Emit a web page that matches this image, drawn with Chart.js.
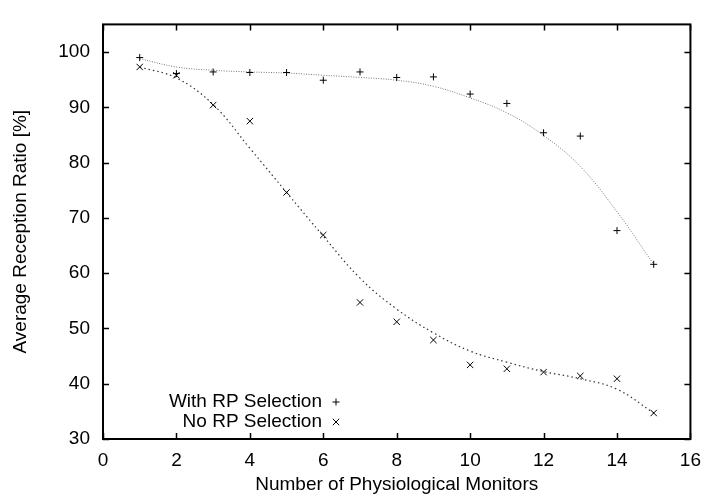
<!DOCTYPE html>
<html>
<head>
<meta charset="utf-8">
<script src="https://cdn.jsdelivr.net/npm/chart.js@4"></script>
<style>
  html, body { margin: 0; padding: 0; background: #fff; }
  #wrap { width: 711px; height: 500px; }
</style>
</head>
<body>
<div id="wrap"><canvas id="chart"></canvas></div>
<script>
// number of monitors
const monitors = [1, 2, 3, 4, 5, 6, 7, 8, 9, 10, 11, 12, 13, 14, 15];
// measured points
const withRP = [99.0, 96.1, 96.4, 96.3, 96.3, 94.9, 96.4, 95.4, 95.5, 92.4, 90.7, 85.4, 84.8, 67.7, 61.6];
const noRP = [97.3, 95.8, 90.4, 87.5, 74.6, 66.9, 54.7, 51.2, 47.9, 43.4, 42.7, 42.1, 41.4, 40.9, 34.7];
// fitted curves, read at each x
const fitWithRP = [98.8, 97.3, 96.7, 96.4, 96.2, 95.8, 95.4, 94.9, 93.8, 91.7, 89.0, 84.9, 79.3, 71.1, 61.6];
const fitNoRP = [97.3, 95.3, 90.5, 82.6, 74.6, 66.7, 59.1, 53.5, 49.2, 45.9, 43.9, 42.2, 40.9, 39.0, 34.7];
// axis ticks
const xTicks = [0, 2, 4, 6, 8, 10, 12, 14, 16];
const yTicks = [30, 40, 50, 60, 70, 80, 90, 100];

const FONT = "'Liberation Sans', Arial, sans-serif";
const FS = 19;
const pts = arr => arr.map((y, i) => ({ x: monitors[i], y }));

// gnuplot style frame, inner ticks on all sides, legend at bottom left
const framePlugin = {
  id: "frame",
  afterDraw(chart) {
    const { ctx, chartArea: a, scales: { x, y } } = chart;
    ctx.save();
    ctx.strokeStyle = "#000";
    ctx.lineWidth = 1.5;
    ctx.beginPath();
    xTicks.forEach(v => {
      const px = Math.round(x.getPixelForValue(v)) + 0.5;
      ctx.moveTo(px, a.bottom); ctx.lineTo(px, a.bottom - 6);
      ctx.moveTo(px, a.top); ctx.lineTo(px, a.top + 6);
    });
    yTicks.forEach(v => {
      const py = Math.round(y.getPixelForValue(v)) + 0.5;
      ctx.moveTo(a.left, py); ctx.lineTo(a.left + 6, py);
      ctx.moveTo(a.right, py); ctx.lineTo(a.right - 6, py);
    });
    ctx.stroke();
    ctx.lineWidth = 2;
    ctx.strokeRect(a.left, a.top, a.right - a.left, a.bottom - a.top);

    // legend
    ctx.font = FS + "px " + FONT;
    ctx.fillStyle = "#000";
    ctx.textAlign = "right";
    ctx.textBaseline = "middle";
    const tx = a.left + 219, mx = a.left + 233;
    const rows = [
      { label: chart.data.datasets[0].label, yy: a.bottom - 37, style: "cross", r: 3.5 },
      { label: chart.data.datasets[1].label, yy: a.bottom - 17, style: "crossRot", r: 4.5 }
    ];
    rows.forEach(row => {
      ctx.fillText(row.label, tx, row.yy);
      ctx.lineWidth = 1;
      Chart.helpers.drawPoint(ctx, { pointStyle: row.style, radius: row.r, borderWidth: 1 }, mx, row.yy);
    });
    ctx.restore();
  }
};

new Chart(document.getElementById("chart"), {
  type: "line",
  data: {
    datasets: [
      {
        label: "With RP Selection",
        data: pts(withRP),
        showLine: false,
        pointStyle: "cross",
        pointRadius: 3.5,
        pointBorderWidth: 1,
        borderColor: "#000",
        backgroundColor: "#000",
        order: 1
      },
      {
        label: "No RP Selection",
        data: pts(noRP),
        showLine: false,
        pointStyle: "crossRot",
        pointRadius: 4.5,
        pointBorderWidth: 1,
        borderColor: "#000",
        backgroundColor: "#000",
        order: 2
      },
      {
        label: "fit with",
        data: pts(fitWithRP),
        pointRadius: 0,
        borderColor: "#777",
        borderWidth: 1,
        borderDash: [1, 1.5],
        tension: 0.4,
        order: 3
      },
      {
        label: "fit no",
        data: pts(fitNoRP),
        pointRadius: 0,
        borderColor: "#333",
        borderWidth: 1.2,
        borderDash: [1.5, 3],
        tension: 0.4,
        order: 4
      }
    ]
  },
  options: {
    responsive: true,
    maintainAspectRatio: false,
    animation: false,
    layout: { padding: { top: 13, right: 15, left: 0, bottom: 0 } },
    plugins: {
      legend: { display: false },
      tooltip: { enabled: false }
    },
    scales: {
      x: {
        type: "linear",
        min: 0,
        max: 16,
        afterBuildTicks: s => { s.ticks = xTicks.map(v => ({ value: v })); },
        afterFit: s => { s.height = 61; },
        grid: { display: false, drawTicks: false },
        border: { display: false },
        ticks: { color: "#000", padding: 10, font: { family: FONT, size: FS } },
        title: {
          display: true,
          text: "Number of Physiological Monitors",
          color: "#000",
          padding: { top: 0, bottom: 4 },
          font: { family: FONT, size: FS }
        }
      },
      y: {
        type: "linear",
        min: 30,
        max: 105,
        afterBuildTicks: s => { s.ticks = yTicks.map(v => ({ value: v })); },
        afterFit: s => { s.width = 103; },
        grid: { display: false, drawTicks: false },
        border: { display: false },
        ticks: { color: "#000", padding: 13, font: { family: FONT, size: FS } },
        title: {
          display: true,
          text: "Average Reception Ratio [%]",
          color: "#000",
          padding: { top: 9, bottom: 0 },
          font: { family: FONT, size: FS }
        }
      }
    }
  },
  plugins: [framePlugin]
});
</script>
</body>
</html>
